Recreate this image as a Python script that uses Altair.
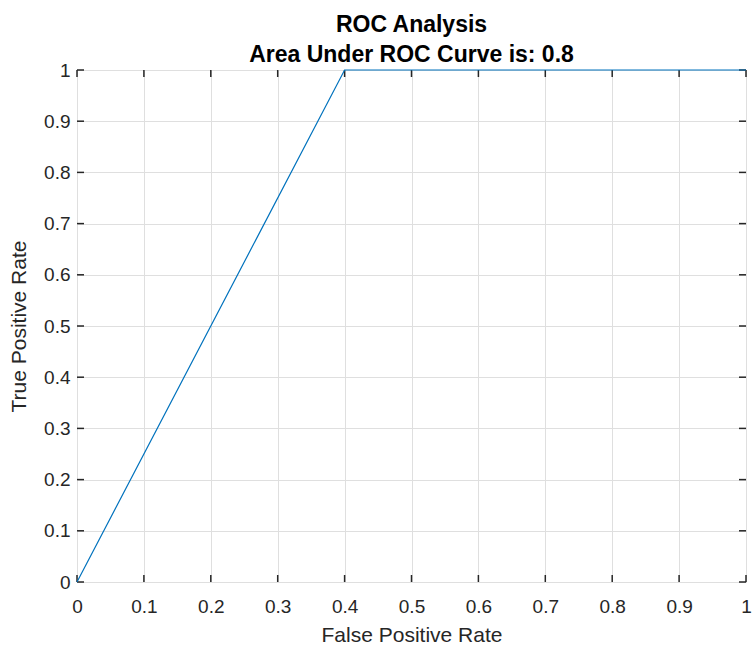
import altair as alt
import pandas as pd

fpr = [0.0, 0.4, 1.0]
tpr = [0.0, 1.0, 1.0]
tick_values = [0.0, 0.1, 0.2, 0.3, 0.4, 0.5, 0.6, 0.7, 0.8, 0.9, 1.0]
title_lines = ["ROC Analysis", "Area Under ROC Curve is: 0.8"]
x_title = "False Positive Rate"
y_title = "True Positive Rate"

W, H = 669, 512
FONT = "Liberation Sans"
AXC = "#262626"

df = pd.DataFrame({"fpr": fpr, "tpr": tpr})
ticks = pd.DataFrame({"t": tick_values})

xscale = alt.Scale(domain=[0, 1], nice=False, zero=False)
yscale = alt.Scale(domain=[0, 1], nice=False, zero=False)

x_axis = alt.Axis(values=tick_values, format="~g", title=x_title, grid=True,
                  gridColor="#dfdfdf", gridWidth=1, domain=False, ticks=False,
                  labelPadding=15, labelFontSize=19, labelFont=FONT, labelColor=AXC,
                  titleFontSize=21, titleFont=FONT, titleColor=AXC, titleFontWeight="normal",
                  titlePadding=8, labelFlush=False)
y_axis = alt.Axis(values=tick_values, format="~g", title=y_title, grid=True,
                  gridColor="#dfdfdf", gridWidth=1, domain=False, ticks=False,
                  labelPadding=7, labelFontSize=19, labelFont=FONT, labelColor=AXC,
                  titleFontSize=21, titleFont=FONT, titleColor=AXC, titleFontWeight="normal",
                  titlePadding=14, labelFlush=False)

line = alt.Chart(df).mark_line(color="#0072BD", strokeWidth=1.2).encode(
    x=alt.X("fpr:Q", scale=xscale, axis=x_axis),
    y=alt.Y("tpr:Q", scale=yscale, axis=y_axis),
)

tb = alt.Chart(ticks).mark_rule(color=AXC, strokeWidth=1.5)
bottom = tb.encode(x=alt.X("t:Q", scale=xscale), y=alt.value(H), y2=alt.value(H - 7))
top = tb.encode(x=alt.X("t:Q", scale=xscale), y=alt.value(0), y2=alt.value(7))
left = tb.encode(y=alt.Y("t:Q", scale=yscale), x=alt.value(0), x2=alt.value(7))
right = tb.encode(y=alt.Y("t:Q", scale=yscale), x=alt.value(W), x2=alt.value(W - 7))

chart = alt.layer(bottom, top, left, right, line).properties(
    width=W, height=H,
    autosize=alt.AutoSizeParams(type="none"),
    padding={"left": 77, "top": 70, "right": 7, "bottom": 64},
    title=alt.TitleParams(text=title_lines, fontSize=23, fontWeight="bold", font=FONT,
                          color="#000000", anchor="middle", lineHeight=30, offset=-6),
).configure_view(stroke=AXC, strokeWidth=1.5).configure(background="white")

chart.save("out.html", embed_options={"renderer": "svg", "actions": False})
